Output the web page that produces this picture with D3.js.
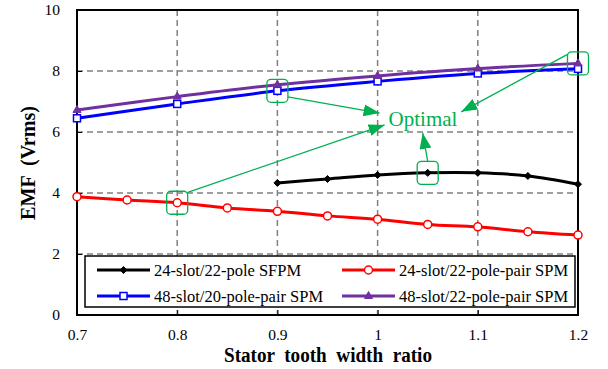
<!DOCTYPE html>
<html>
<head>
<meta charset="utf-8">
<script src="https://cdn.jsdelivr.net/npm/d3@7"></script>
<style>
  body { margin: 0; background: #fff; }
</style>
</head>
<body>
<svg id="chart" width="608" height="369"></svg>
<script>
// data
const xTicks = [0.7, 0.8, 0.9, 1, 1.1, 1.2];
const yTicks = [0, 2, 4, 6, 8, 10];

const sfpmX = [0.9, 0.95, 1.0, 1.05, 1.1, 1.15, 1.2];
const sfpmY = [4.33, 4.46, 4.59, 4.66, 4.66, 4.56, 4.29];

const spm24X = [0.7, 0.75, 0.8, 0.85, 0.9, 0.95, 1.0, 1.05, 1.1, 1.15, 1.2];
const spm24Y = [3.88, 3.77, 3.68, 3.51, 3.40, 3.25, 3.14, 2.97, 2.89, 2.73, 2.62];

const spm48aX = [0.7, 0.8, 0.9, 1.0, 1.1, 1.2];
const spm48aY = [6.45, 6.92, 7.35, 7.66, 7.92, 8.07];

const spm48bX = [0.7, 0.8, 0.9, 1.0, 1.1, 1.2];
const spm48bY = [6.72, 7.16, 7.55, 7.84, 8.08, 8.25];

const seriesNames = [
  "24-slot/22-pole SFPM",
  "24-slot/22-pole-pair SPM",
  "48-slot/20-pole-pair SPM",
  "48-slot/22-pole-pair SPM"
];

// optimal points (x, y) and arrow tips in data units
const optimalPts = [[0.9, 7.35], [0.8, 3.68], [1.05, 4.66], [1.2, 8.25]];
const arrowTips = [[1.002, 6.62], [1.007, 6.23], [1.045, 5.97], [1.0835, 6.66]];

const svg = d3.select("#chart");
const margin = { top: 10, right: 30, bottom: 54, left: 77 };
const W = 608, H = 369;
const iw = W - margin.left - margin.right;
const ih = H - margin.top - margin.bottom;
const serif = "'Liberation Serif'";

const x = d3.scaleLinear().domain([0.7, 1.2]).range([0, iw]);
const y = d3.scaleLinear().domain([0, 10]).range([ih, 0]);

const g = svg.append("g").attr("transform", `translate(${margin.left},${margin.top})`);

// grid
g.append("g").selectAll("line")
  .data(xTicks.slice(1, -1))
  .join("line")
  .attr("x1", d => x(d)).attr("x2", d => x(d))
  .attr("y1", 0).attr("y2", ih)
  .attr("stroke", "#808080").attr("stroke-width", 1.5)
  .attr("stroke-dasharray", "6,4");
g.append("g").selectAll("line")
  .data(yTicks.slice(1, -1))
  .join("line")
  .attr("y1", d => y(d)).attr("y2", d => y(d))
  .attr("x1", 0).attr("x2", iw)
  .attr("stroke", "#808080").attr("stroke-width", 1.5)
  .attr("stroke-dasharray", "6,4");

// axes (inward ticks)
const xAxis = g.append("g").attr("transform", `translate(0,${ih})`)
  .call(d3.axisBottom(x).tickValues(xTicks).tickSize(-5).tickPadding(14).tickFormat(d3.format("")));
const yAxis = g.append("g")
  .call(d3.axisLeft(y).tickValues(yTicks).tickSize(-5).tickPadding(17));
[xAxis, yAxis].forEach(a => {
  a.select(".domain").remove();
  a.selectAll("line").attr("stroke", "#000").attr("stroke-width", 1);
  a.selectAll("text").attr("fill", "#000")
    .style("font-family", serif).style("font-size", "15.5px");
});

// frame
g.append("rect").attr("width", iw).attr("height", ih)
  .attr("fill", "none").attr("stroke", "#000").attr("stroke-width", 2);

const line = d3.line().x(d => x(d[0])).y(d => y(d[1])).curve(d3.curveCatmullRom.alpha(0.5));

const series = [
  { xs: sfpmX, ys: sfpmY, color: "#000000", marker: "diamond" },
  { xs: spm24X, ys: spm24Y, color: "#ff0000", marker: "circle" },
  { xs: spm48aX, ys: spm48aY, color: "#0000ff", marker: "square" },
  { xs: spm48bX, ys: spm48bY, color: "#7030a0", marker: "triangle" }
];

function drawMarker(sel, type, color) {
  if (type === "diamond") {
    sel.append("path").attr("d", "M0,-3.5L3.5,0L0,3.5L-3.5,0Z")
      .attr("fill", color).attr("stroke", color).attr("stroke-width", 1);
  } else if (type === "circle") {
    sel.append("circle").attr("r", 4).attr("fill", "#fff")
      .attr("stroke", color).attr("stroke-width", 1.5);
  } else if (type === "square") {
    sel.append("rect").attr("x", -3.5).attr("y", -3.5).attr("width", 7).attr("height", 7)
      .attr("fill", "#fff").attr("stroke", color).attr("stroke-width", 1.5);
  } else {
    sel.append("path").attr("d", "M0,-4.5L4,2.5L-4,2.5Z")
      .attr("fill", color).attr("stroke", color).attr("stroke-width", 1);
  }
}

series.forEach(s => {
  const pts = s.xs.map((v, i) => [v, s.ys[i]]);
  g.append("path").datum(pts).attr("d", line)
    .attr("fill", "none").attr("stroke", s.color).attr("stroke-width", 3);
});
series.forEach(s => {
  const pts = s.xs.map((v, i) => [v, s.ys[i]]);
  g.append("g").selectAll("g").data(pts).join("g")
    .attr("transform", d => `translate(${x(d[0])},${y(d[1])})`)
    .each(function() { drawMarker(d3.select(this), s.marker, s.color); });
});

// annotations
const green = "#00b050";
const defs = svg.append("defs");
defs.append("marker").attr("id", "arrow")
  .attr("viewBox", "0 0 16 12").attr("refX", 16).attr("refY", 6)
  .attr("markerWidth", 16).attr("markerHeight", 12)
  .attr("markerUnits", "userSpaceOnUse").attr("orient", "auto")
  .append("path").attr("d", "M0,0L16,6L0,12Z").attr("fill", green);

const ann = g.append("g");
optimalPts.forEach(p => {
  ann.append("rect")
    .attr("x", x(p[0]) - 10.5).attr("y", y(p[1]) - 11.5)
    .attr("width", 21).attr("height", 23).attr("rx", 4)
    .attr("fill", "none").attr("stroke", green).attr("stroke-width", 1.3);
});
// start offsets from each box
const startOff = [[10.5, 6], [10.5, -10.5], [0, -11.5], [-10.5, -9]];
optimalPts.forEach((p, i) => {
  ann.append("line")
    .attr("x1", x(p[0]) + startOff[i][0]).attr("y1", y(p[1]) + startOff[i][1])
    .attr("x2", x(arrowTips[i][0])).attr("y2", y(arrowTips[i][1]))
    .attr("stroke", green).attr("stroke-width", 1.3)
    .attr("marker-end", "url(#arrow)");
});
ann.append("text").attr("x", x(1.011)).attr("y", y(6.2))
  .style("font-family", serif).style("font-size", "21px")
  .attr("fill", green).text("Optimal");

// legend
const leg = g.append("g").attr("transform", `translate(8,${ih - 59})`);
leg.append("rect").attr("width", 490).attr("height", 51)
  .attr("fill", "#fff").attr("stroke", "#000").attr("stroke-width", 1.5);
const legPos = [[12, 14], [257, 14], [12, 40], [257, 40]];
series.forEach((s, i) => {
  const [lx, ly] = legPos[i];
  leg.append("line").attr("x1", lx).attr("x2", lx + 53)
    .attr("y1", ly).attr("y2", ly).attr("stroke", s.color).attr("stroke-width", 3);
  const m = leg.append("g").attr("transform", `translate(${lx + 26.5},${ly})`);
  drawMarker(m, s.marker, s.color);
  leg.append("text").attr("x", lx + 57).attr("y", ly + 5.5)
    .style("font-family", serif).style("font-size", "16.5px")
    .attr("fill", "#000").text(seriesNames[i]);
});

// axis titles
svg.append("text")
  .attr("x", 224).attr("y", 362)
  .attr("textLength", 208).attr("lengthAdjust", "spacingAndGlyphs")
  .style("font-family", serif).style("font-size", "20px").style("font-weight", "bold")
  .style("word-spacing", "5px")
  .text("Stator tooth width ratio");
svg.append("text")
  .attr("transform", `translate(35,220) rotate(-90)`)
  .attr("textLength", 114).attr("lengthAdjust", "spacingAndGlyphs")
  .style("font-family", serif).style("font-size", "20px").style("font-weight", "bold")
  .style("word-spacing", "5px")
  .text("EMF (Vrms)");
</script>
</body>
</html>
